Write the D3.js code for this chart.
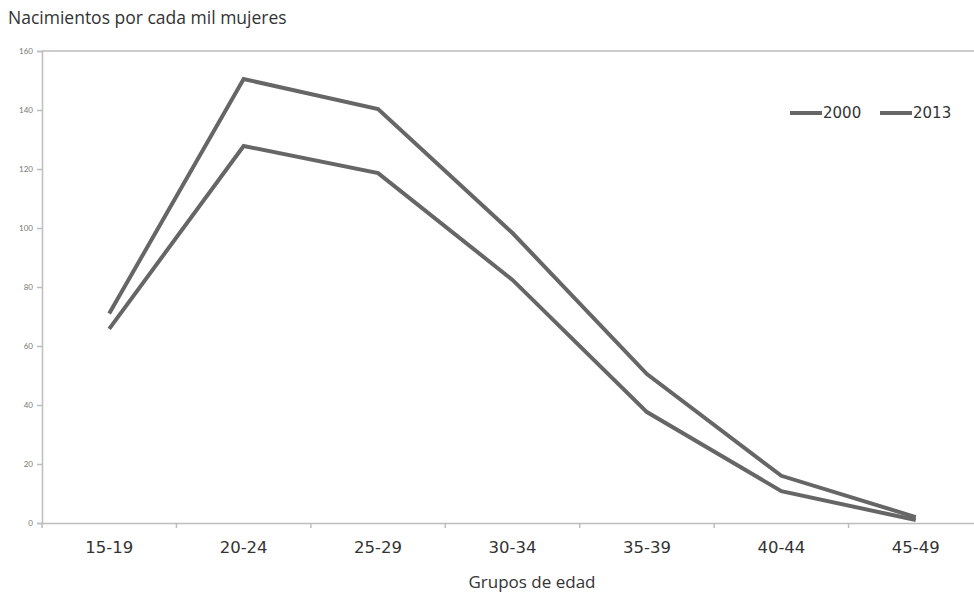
<!DOCTYPE html>
<html><head><meta charset="utf-8">
<script src="https://cdn.jsdelivr.net/npm/d3@7"></script>
<style>body{margin:0;background:#fff;} svg{display:block;}</style>
</head><body>
<script>
const categories = ["15-19","20-24","25-29","30-34","35-39","40-44","45-49"];
const series2000 = [71, 150.5, 140.3, 98.3, 50.5, 16, 2];
const series2013 = [65.8, 127.8, 118.6, 82.4, 37.6, 10.8, 1];
const seriesNames = ["2000","2013"];
const yTicks = [0,20,40,60,80,100,120,140,160];

(function(){
const W = 974, H = 593;
const svg = d3.select("body").append("svg").attr("width", W).attr("height", H);
const mLeft = 42, mRight = 983, mTop = 51, mBottom = 523;
const x = d3.scaleBand().domain(categories).range([mLeft, mRight]);
const y = d3.scaleLinear().domain([0,160]).range([mBottom, mTop]);
const axisColor = "#bdbdbd";

svg.append("text").attr("x", 8).attr("y", 24).text("Nacimientos por cada mil mujeres")
  .attr("font-family","'Open Sans', sans-serif").attr("font-size", 17.5).attr("fill","#333");

svg.append("line").attr("x1", mLeft).attr("x2", mRight).attr("y1", y(160)).attr("y2", y(160))
  .attr("stroke", axisColor).attr("stroke-width", 1.5);

const ya = svg.append("g").attr("transform", `translate(${mLeft},0)`)
  .call(d3.axisLeft(y).tickValues(yTicks).tickSize(5).tickPadding(4));
ya.select(".domain").attr("stroke", axisColor).attr("stroke-width", 1.5);
ya.selectAll(".tick line").attr("stroke", axisColor).attr("stroke-width", 1.5);
ya.selectAll(".tick text").attr("font-family","Lato, sans-serif").attr("font-size", 8).attr("fill","#777");

const xa = svg.append("g").attr("transform", `translate(0,${mBottom})`)
  .call(d3.axisBottom(x).tickSize(0).tickPadding(18));
xa.select(".domain").attr("stroke", axisColor).attr("stroke-width", 1.5);
xa.selectAll(".tick text").attr("font-family","'DejaVu Sans', sans-serif").attr("font-size", 16.5).attr("fill","#333");
const bounds = categories.map(c => x(c)).concat([x(categories[categories.length-1]) + x.bandwidth()]);
svg.append("g").selectAll("line").data(bounds).join("line")
  .attr("x1", d => d).attr("x2", d => d).attr("y1", mBottom).attr("y2", mBottom + 5)
  .attr("stroke", axisColor).attr("stroke-width", 1.5);

svg.append("text").attr("x", 532).attr("y", 588).attr("text-anchor","middle").text("Grupos de edad")
  .attr("font-family","'Open Sans', sans-serif").attr("font-size", 17).attr("fill","#333");

const line = d3.line().x((d,i) => x(categories[i]) + x.bandwidth()/2).y(d => y(d));
[series2000, series2013].forEach(s => {
  svg.append("path").datum(s).attr("d", line).attr("fill","none")
    .attr("stroke","#666").attr("stroke-width", 4).attr("stroke-linejoin","miter");
});

const lg = svg.append("g");
[[790, seriesNames[0]], [880, seriesNames[1]]].forEach(([lx, name]) => {
  lg.append("line").attr("x1", lx).attr("x2", lx + 32).attr("y1", 113).attr("y2", 113)
    .attr("stroke","#666").attr("stroke-width", 4);
  lg.append("text").attr("x", lx + 33).attr("y", 118).text(name)
    .attr("font-family","'DejaVu Sans', sans-serif").attr("font-size", 15).attr("fill","#333");
});
})();
</script>
</body></html>
